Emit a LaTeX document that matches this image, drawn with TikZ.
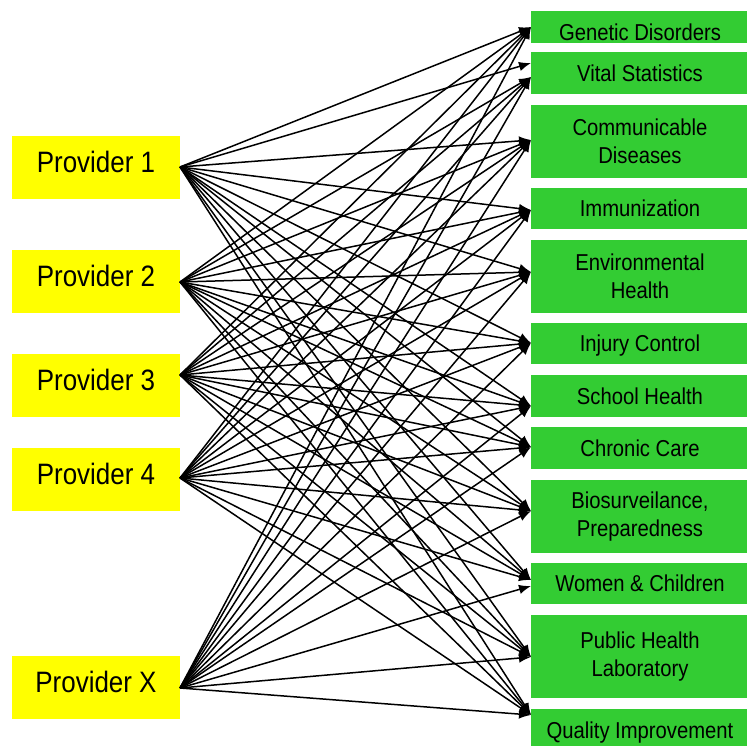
\documentclass[tikz,border=0pt]{standalone}
\usepackage{fontspec}
\setmainfont{Liberation Sans}[FakeStretch=0.88]
\usetikzlibrary{arrows.meta}
\definecolor{provyellow}{RGB}{255,255,0}
\definecolor{svcgreen}{RGB}{51,204,51}
\begin{document}
\begin{tikzpicture}[x=1pt,y=-1pt,
  pbox/.style={fill=provyellow, minimum width=168pt, minimum height=63pt, inner sep=0pt,
    font=\fontsize{29.5}{34}\selectfont, text height=21pt, text depth=11pt},
  sbox/.style={fill=svcgreen, minimum width=218pt, inner sep=0pt,
    font=\fontsize{23}{28}\selectfont, align=center},
  oneline/.style={text height=16.5pt, text depth=0pt},
  link/.style={-{Latex[length=12pt,width=9.5pt]}, line width=1.5pt}]
\useasboundingbox (0,0) rectangle (747,746);

% providers
\node[pbox] (p1) at (96,167.5) {Provider 1};
\node[pbox] (p2) at (96,281.5) {Provider 2};
\node[pbox] (p3) at (96,385.5) {Provider 3};
\node[pbox] (p4) at (96,479.5) {Provider 4};
\node[pbox] (px) at (96,687.5) {Provider X};

% fan-out points on the providers' right edges
\coordinate (p1o) at (180,167);
\coordinate (p2o) at (180,282);
\coordinate (p3o) at (180,375);
\coordinate (p4o) at (180,478);
\coordinate (pxo) at (180,688);

% service areas
\node[sbox, minimum height=32pt, text height=26.5pt, text depth=0pt] (gen) at (640,27) {Genetic Disorders};
\node[sbox, oneline, minimum height=42pt] (vit) at (640,73) {Vital Statistics};
\node[sbox, minimum height=73pt] (com) at (640,141.5) {Communicable\\Diseases};
\node[sbox, oneline, minimum height=41pt] (imm) at (640,208.5) {Immunization};
\node[sbox, minimum height=73pt] (env) at (640,276.5) {Environmental\\Health};
\node[sbox, oneline, minimum height=41pt] (inj) at (640,343.5) {Injury Control};
\node[sbox, oneline, minimum height=42pt] (sch) at (640,396) {School Health};
\node[sbox, oneline, minimum height=42pt] (chr) at (640,448) {Chronic Care};
\node[sbox, minimum height=73pt] (bio) at (640,516.5) {Biosurveilance,\\Preparedness};
\node[sbox, oneline, minimum height=41pt] (wom) at (640,583.5) {Women \& Children};
\node[sbox, minimum height=83pt] (phl) at (640,656.5) {Public Health\\Laboratory};
\node[sbox, oneline, minimum height=43pt] (qi) at (640,730.5) {Quality Improvement};

% arrow end points on the service boxes' left edges
\coordinate (gen-in) at (531,27);
\coordinate (vit-in) at (531,77);
\coordinate (vit-in2) at (531,63);
\coordinate (com-in) at (531,140);
\coordinate (imm-in) at (531,210);
\coordinate (env-in) at (531,272);
\coordinate (inj-in) at (531,343);
\coordinate (sch-in) at (531,406);
\coordinate (chr-in) at (531,447);
\coordinate (bio-in) at (531,511);
\coordinate (wom-in) at (531,580);
\coordinate (wom-in2) at (531,586);
\coordinate (phl-in) at (531,657);
\coordinate (qi-in) at (531,715);

% every provider feeds every service area
\foreach \t in {gen-in,vit-in2,com-in,imm-in,env-in,inj-in,sch-in,chr-in,bio-in,wom-in,phl-in,qi-in}
  \draw[link] (p1o) -- (\t);
\foreach \s in {p2o,p3o,p4o}
  \foreach \t in {gen-in,vit-in,com-in,imm-in,env-in,inj-in,sch-in,chr-in,bio-in,wom-in,phl-in,qi-in}
    \draw[link] (\s) -- (\t);
\foreach \t in {gen-in,vit-in,com-in,imm-in,env-in,inj-in,sch-in,chr-in,bio-in,wom-in2,phl-in,qi-in}
  \draw[link] (pxo) -- (\t);
\end{tikzpicture}
\end{document}
